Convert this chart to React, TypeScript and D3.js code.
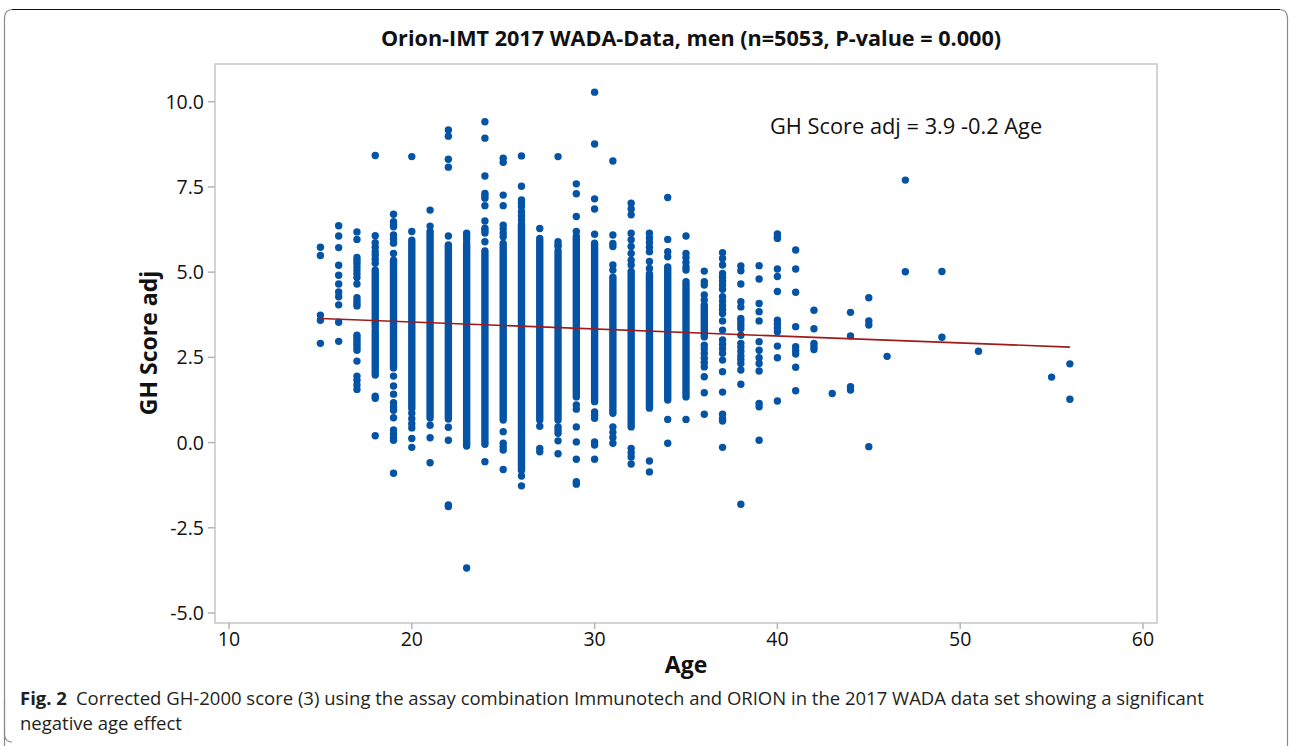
import React from "react";
import * as d3 from "d3";

const titleText = "Orion-IMT 2017 WADA-Data, men (n=5053, P-value = 0.000)";
const equationText = "GH Score adj = 3.9 -0.2 Age";
const xLabel = "Age";
const yLabel = "GH Score adj";
const captionBold = "Fig. 2";
const captionLine1 = "Corrected GH-2000 score (3) using the assay combination Immunotech and ORION in the 2017 WADA data set showing a significant";
const captionLine2 = "negative age effect";

const xTicks = [10, 20, 30, 40, 50, 60];
const yTicks = [-5, -2.5, 0, 2.5, 5, 7.5, 10];

// dense (overplotted) runs of points per age: [age, low, high]
const denseRuns: [number, number, number][] = [
  [18, 1.98, 3.3], [18, 3.4, 5.06], [19, 2.19, 5.35], [20, 1.0, 5.94], [21, 0.72, 6.19],
  [22, 0.69, 5.8], [23, -0.1, 5.84], [24, -0.05, 5.62], [25, 0.66, 5.84], [26, -0.81, 6.4],
  [27, 0.66, 5.99], [28, 0.66, 5.62], [29, 1.34, 6.05], [30, 1.2, 5.85], [31, 1.05, 4.85],
  [32, 0.46, 5.02], [33, 1.01, 4.95], [34, 1.25, 5.15], [35, 1.34, 4.72], [36, 3.1, 4.03],
];

// individually visible points per age
const points: [number, number[]][] = [
  [15, [5.73, 5.49, 3.74, 3.59, 2.91]],
  [16, [6.36, 6.06, 5.72, 5.2, 4.91, 4.65, 4.42, 4.28, 4.04, 3.53, 2.97]],
  [17, [6.18, 5.96, 5.43, 5.35, 5.26, 5.16, 5.06, 4.95, 4.84, 4.65, 4.25, 4.16, 4.08, 4.01, 3.15, 3.08, 3.01, 2.93, 2.86, 2.78, 2.71, 2.39, 1.95, 1.83, 1.69, 1.56]],
  [18, [8.42, 6.07, 5.86, 5.73, 5.6, 5.5, 5.38, 5.26, 1.36, 1.3, 0.2]],
  [19, [6.7, 6.48, 6.4, 6.33, 6.09, 5.97, 5.85, 5.55, 1.95, 1.66, 1.42, 1.17, 1.05, 0.95, 0.73, 0.37, 0.25, 0.15, 0.07, -0.9]],
  [20, [8.39, 6.19, 0.86, 0.7, 0.55, 0.43, 0.12, -0.14]],
  [21, [6.82, 6.35, 0.51, 0.14, -0.59]],
  [22, [9.17, 8.99, 8.31, 8.08, 6.06, 0.45, 0.07, -1.83, -1.88]],
  [23, [6.14, 6.05, 5.95, -3.68]],
  [24, [9.41, 8.93, 7.82, 7.31, 7.24, 7.17, 6.95, 6.5, 6.29, 6.22, 6.15, 5.89, -0.56]],
  [25, [8.34, 8.22, 7.26, 6.95, 6.38, 6.27, 6.15, 6.04, 0.32, -0.02, -0.12, -0.22, -0.79]],
  [26, [8.41, 7.52, 7.12, 7.02, 6.92, 6.77, 6.65, 6.53, -0.98, -1.27]],
  [27, [6.28, 0.48, -0.17, -0.27]],
  [28, [8.39, 5.89, 5.8, 5.75, 0.46, 0.36, 0.27, 0.05, -0.33]],
  [29, [7.59, 7.3, 6.63, 6.19, 1.1, 0.98, 0.46, 0.02, -0.49, -1.15, -1.22]],
  [30, [10.28, 8.76, 7.15, 6.85, 6.11, 0.9, 0.8, 0.71, 0.02, -0.07, -0.49]],
  [31, [8.26, 6.09, 5.84, 5.75, 5.21, 5.06, 0.95, 0.86, 0.46, 0.3, 0.15, -0.02]],
  [32, [7.02, 6.85, 6.68, 6.14, 5.95, 5.75, 5.55, 5.35, 5.21, -0.17, -0.3, -0.42, -0.63]],
  [33, [6.14, 6.0, 5.87, 5.73, 5.6, 5.31, 5.11, -0.54, -0.86]],
  [34, [7.19, 5.96, 5.6, 5.45, 0.68, -0.02]],
  [35, [6.06, 5.55, 5.42, 5.28, 5.15, 5.06, 0.68]],
  [36, [5.03, 4.72, 4.62, 4.33, 4.18, 2.86, 2.75, 2.62, 2.48, 2.35, 2.22, 1.93, 1.46, 0.83]],
  [37, [5.57, 5.4, 5.21, 4.96, 4.85, 4.74, 4.62, 4.5, 4.28, 4.15, 4.02, 3.9, 3.79, 3.57, 3.3, 3.01, 2.88, 2.75, 2.62, 2.42, 2.08, 1.48, 0.83, 0.7, 0.63, -0.14]],
  [38, [5.18, 5.04, 4.65, 4.13, 3.98, 3.64, 3.55, 3.45, 3.35, 3.15, 2.91, 2.8, 2.68, 2.55, 2.44, 2.32, 2.13, 1.71, -1.81]],
  [39, [5.19, 4.8, 4.08, 3.84, 3.57, 2.96, 2.71, 2.49, 2.32, 2.1, 1.15, 1.05, 0.07]],
  [40, [6.12, 6.04, 5.99, 5.09, 4.87, 4.43, 3.59, 3.48, 3.36, 3.25, 2.83, 2.49, 1.22]],
  [41, [5.65, 5.09, 4.41, 3.4, 2.81, 2.7, 2.6, 2.21, 1.52]],
  [42, [3.88, 3.34, 2.91, 2.82, 2.73]],
  [43, [1.44]],
  [44, [3.82, 3.13, 1.64, 1.54]],
  [45, [4.25, 3.57, 3.45, -0.12]],
  [46, [2.53]],
  [47, [7.7, 5.01]],
  [49, [5.02, 3.09]],
  [51, [2.68]],
  [55, [1.92]],
  [56, [2.31, 1.27]],
];

// fitted regression line endpoints
const fitAges = [15, 56];
const fitValues = [3.64, 2.8];

const W = 1290;
const H = 746;
const frame = { left: 215, right: 1157, top: 64, bottom: 623 };
const dotColor = "#0553a5";
const R = 3.7;
const FONT = "'Open Sans', 'Noto Sans', sans-serif";

const fmtY = (t: number) => d3.format(".1f")(t).replace("\u2212", "-");

export default function App() {
  const x = d3.scaleLinear().domain([10, 60]).range([229, 1143]);
  const y = d3.scaleLinear().domain([-5, 10]).range([613, 101.7]);
  const fitLine = d3
    .line<number>()
    .x((_, i) => x(fitAges[i]))
    .y((d) => y(d))(fitValues);

  return (
    <svg
      width={W}
      height={H}
      style={{ position: "absolute", left: 0, top: 0, background: "#fff" }}
      fontFamily={FONT}
    >
      <rect x={0} y={0} width={W} height={H} fill="#fff" />
      {/* card border */}
      <path
        d={`M4.5,${H + 10} L4.5,18 Q4.5,9.5 13,9.5 L1279,9.5 Q1287.5,9.5 1287.5,18 L1287.5,${H + 10}`}
        fill="none"
        stroke="#8a8a8a"
        strokeWidth={1.2}
      />
      <line x1={12} x2={1280} y1={9.5} y2={9.5} stroke="#111" strokeWidth={1.2} />
      <path d={`M4.5,700 L4.5,734 Q4.5,742 12,742`} fill="none" stroke="#8a8a8a" strokeWidth={1.2} />

      {/* title */}
      <text x={691} y={46} textAnchor="middle" fontSize={21.6} fontWeight="bold" fill="#111">
        {titleText}
      </text>

      {/* plot frame */}
      <rect
        x={frame.left}
        y={frame.top}
        width={frame.right - frame.left}
        height={frame.bottom - frame.top}
        fill="none"
        stroke="#c6c6c6"
        strokeWidth={1.5}
      />

      {/* y ticks */}
      {yTicks.map((t) => (
        <g key={"y" + t}>
          <line x1={frame.left - 7} x2={frame.left} y1={y(t)} y2={y(t)} stroke="#b5b5b5" strokeWidth={1.5} />
          <text x={204} y={y(t) + 7} textAnchor="end" fontSize={19.5} fill="#111">
            {fmtY(t)}
          </text>
        </g>
      ))}
      {/* x ticks */}
      {xTicks.map((t) => (
        <g key={"x" + t}>
          <line x1={x(t)} x2={x(t)} y1={frame.bottom} y2={frame.bottom + 6} stroke="#b5b5b5" strokeWidth={1.5} />
          <text x={x(t)} y={646} textAnchor="middle" fontSize={19.5} fill="#111">
            {t}
          </text>
        </g>
      ))}

      {/* axis labels */}
      <text x={686} y={673} textAnchor="middle" fontSize={23} fontWeight="bold" fill="#111">
        {xLabel}
      </text>
      <text
        transform={`translate(157,${343}) rotate(-90)`}
        textAnchor="middle"
        fontSize={23}
        fontWeight="bold"
        fill="#111"
      >
        {yLabel}
      </text>

      {/* equation */}
      <text x={770} y={134} fontSize={21.8} fill="#111">
        {equationText}
      </text>

      {/* dense runs */}
      {denseRuns.map(([a, lo, hi], i) => (
        <line
          key={"d" + i}
          x1={x(a)}
          x2={x(a)}
          y1={y(lo)}
          y2={y(hi)}
          stroke={dotColor}
          strokeWidth={2 * R}
          strokeLinecap="round"
        />
      ))}
      {/* points */}
      {points.map(([a, vals]) =>
        vals.map((v, j) => <circle key={a + "-" + j} cx={x(a)} cy={y(v)} r={R} fill={dotColor} />)
      )}

      {/* regression line */}
      <path d={fitLine || ""} fill="none" stroke="#9e1b1b" strokeWidth={1.6} />

      {/* caption */}
      <text x={20} y={705} fontSize={18.5} fill="#231f20">
        <tspan fontWeight="bold">{captionBold}</tspan>
        <tspan dx={9}>{captionLine1}</tspan>
      </text>
      <text x={20} y={730} fontSize={18.5} fill="#231f20">
        {captionLine2}
      </text>
    </svg>
  );
}
